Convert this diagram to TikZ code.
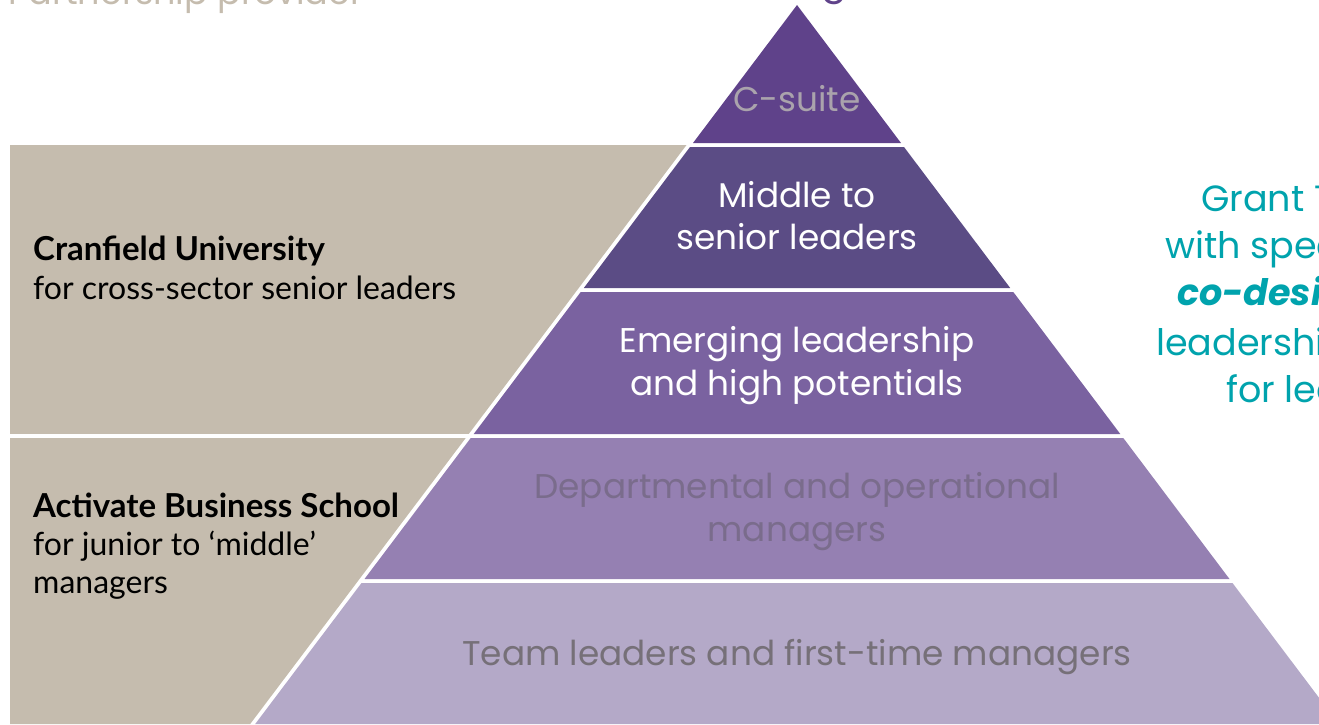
\documentclass[tikz,border=0pt]{standalone}
\usepackage{fontspec}
\setmainfont{Poppins}
\newfontfamily\pyr{Poppins}
\newfontfamily\side{Lato}
\definecolor{beige}{RGB}{197,188,174}
\definecolor{lay1}{RGB}{95,66,138}
\definecolor{lay2}{RGB}{91,76,133}
\definecolor{lay3}{RGB}{122,98,160}
\definecolor{lay4}{RGB}{149,128,178}
\definecolor{lay5}{RGB}{180,169,200}
\definecolor{txtA}{RGB}{170,163,172}
\definecolor{txtB}{RGB}{122,108,140}
\definecolor{txtC}{RGB}{118,112,120}
\definecolor{teal}{RGB}{0,163,173}
\tikzset{
  pyrtext/.style={anchor=base, inner sep=0pt, font=\pyr\fontsize{34.3}{40}\selectfont},
  sidetext/.style={anchor=base west, inner sep=0pt, font=\side\fontsize{32}{38}\selectfont, text=black},
  sidehead/.style={sidetext, font=\side\bfseries\fontsize{33}{38}\selectfont},
  righttext/.style={anchor=base west, inner sep=0pt, font=\pyr\fontsize{36.5}{46}\selectfont, text=teal},
}
\begin{document}
\begin{tikzpicture}[x=1pt,y=-1pt]
\useasboundingbox (0,0) rectangle (1319,724);
\clip (0,0) rectangle (1319,724);
% beige partnership panel
\fill[beige] (10,145) -- (686.5,145) -- (250.2,724) -- (10,724) -- cycle;
\draw[white, line width=3.5pt] (0,436) -- (700,436);
% pyramid layers
\fill[lay1] (797,5) -- (901,143) -- (693,143) -- cycle;
\fill[lay2] (690,147) -- (904,147) -- (1010.2,288) -- (583.8,288) -- cycle;
\fill[lay3] (580.7,292) -- (1013.3,292) -- (1120.3,434) -- (473.7,434) -- cycle;
\fill[lay4] (470.7,438) -- (1123.3,438) -- (1229.5,579) -- (364.5,579) -- cycle;
\fill[lay5] (361.5,583) -- (1232.5,583) -- (1338.8,724) -- (255.2,724) -- cycle;
% pyramid labels
\node[pyrtext, text=txtA] (csuite) at (797,111) {C-suite};
\node[pyrtext, text=white] (mid1) at (797,207) {Middle to};
\node[pyrtext, text=white] (mid2) at (797,249) {senior leaders};
\node[pyrtext, text=white] (em1) at (797,352) {Emerging leadership};
\node[pyrtext, text=white] (em2) at (797,395) {and high potentials};
\node[pyrtext, text=txtB] (dep1) at (797,498) {Departmental and operational};
\node[pyrtext, text=txtB] (dep2) at (797,541) {managers};
\node[pyrtext, text=txtC] (team) at (797,665) {Team leaders and first-time managers};
% left labels
\node[sidehead] (cran1) at (33,260) {Cranfield University};
\node[sidetext] (cran2) at (33,299) {for cross-sector senior leaders};
\node[sidehead] (act1) at (33,517) {Activate Business School};
\node[sidetext] (act2) at (33,555) {for junior to ‘middle’};
\node[sidetext] (act3) at (33,593) {managers};
% right labels (cut by the edge, as in the reference)
\node[righttext] (gr1) at (1201,211) {Grant T};
\node[righttext] (gr2) at (1165,258) {with spec};
\node[righttext, font=\pyr\bfseries\itshape\fontsize{36.5}{46}\selectfont] (gr3) at (1177,305) {co-desig};
\node[righttext] (gr4) at (1156,355) {leadershi};
\node[righttext] (gr5) at (1226,402) {for lea};
% top labels (cut by the edge, as in the reference)
\node[anchor=base west, inner sep=0pt, font=\pyr\fontsize{35}{40}\selectfont, text=beige] (partner) at (8,4) {Partnership provider};
\node[anchor=base west, inner sep=0pt, font=\pyr\fontsize{38}{46}\selectfont, text=lay1] (topg) at (821,-6) {g};
\end{tikzpicture}
\end{document}
